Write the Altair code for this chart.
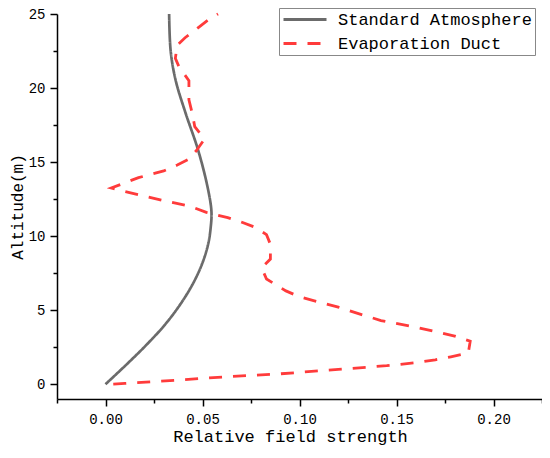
import altair as alt
import pandas as pd

# Standard Atmosphere (altitude m, relative field strength)
std_alt = [0, 1.3, 2.63, 3.95, 5.27, 6.7, 8.13, 9.45, 10.55, 11.68, 13.44, 15.87, 18.3, 20.5, 22.49, 25]
std_field = [0.0, 0.0106, 0.0209, 0.0302, 0.0379, 0.0447, 0.0498, 0.0529, 0.0542, 0.0546,
             0.0524, 0.0476, 0.0413, 0.0362, 0.0336, 0.0328]

# Evaporation Duct
duct_alt = [0.00, 0.05, 0.30, 0.50, 0.70, 1.00, 1.25, 1.45, 1.65, 1.85, 2.10, 2.90, 3.25, 3.55,
            3.85, 4.30, 4.70, 5.20, 5.90, 6.30, 6.70, 7.10, 7.85, 8.45, 9.45, 10.10, 10.60,
            10.95, 11.25, 11.60, 12.00, 12.40, 12.80, 13.05, 13.25, 13.60, 13.95, 14.40,
            14.80, 15.20, 15.80, 16.55, 17.40, 18.30, 19.20, 20.50, 21.40, 22.00, 22.90,
            23.40, 24.10, 24.60, 25.00]
duct_field = [0.004, 0.010, 0.040, 0.062, 0.090, 0.120, 0.145, 0.160, 0.170, 0.178, 0.187,
              0.188, 0.180, 0.170, 0.160, 0.142, 0.132, 0.120, 0.100, 0.093, 0.088, 0.083,
              0.0805, 0.085, 0.085, 0.083, 0.077, 0.070, 0.063, 0.052, 0.044, 0.030, 0.017,
              0.009, 0.003, 0.010, 0.017, 0.030, 0.037, 0.043, 0.047, 0.051, 0.046, 0.0447,
              0.043, 0.043, 0.038, 0.036, 0.037, 0.041, 0.048, 0.053, 0.058]

series_names = ["Standard Atmosphere", "Evaporation Duct"]
x_ticks = [-0.025, 0.0, 0.025, 0.05, 0.075, 0.10, 0.125, 0.15, 0.175, 0.20, 0.225]
y_ticks = [0, 2.5, 5, 7.5, 10, 12.5, 15, 17.5, 20, 22.5, 25]

rows = []
for i, (a, f) in enumerate(zip(std_alt, std_field)):
    rows.append({"series": series_names[0], "alt": a, "field": f, "idx": i})
for i, (a, f) in enumerate(zip(duct_alt, duct_field)):
    rows.append({"series": series_names[1], "alt": a, "field": f, "idx": i})
df = pd.DataFrame(rows)

FONT = "Liberation Mono"
GRAY = "#6b6b6b"
RED = "#ff3b3b"

legend = alt.Legend(
    title=None, orient="none", legendX=222, legendY=-6, direction="vertical",
    symbolType="stroke", symbolSize=1849, symbolStrokeWidth=3,
    labelFont=FONT, labelFontSize=17, labelColor="black", labelOffset=10,
    strokeColor="#888888", fillColor="white", padding=3, rowPadding=6,
    clipHeight=17, labelLimit=400,
)

x_enc = alt.X(
    "field:Q",
    scale=alt.Scale(domain=[-0.025, 0.225], nice=False, zero=False),
    axis=alt.Axis(
        values=x_ticks, format=".2f",
        labelExpr="abs(round(datum.value*1000)) % 50 == 0 ? datum.label : ''",
        tickSize={"condition": {"test": "abs(round(datum.value*1000)) % 50 == 0", "value": 7}, "value": 4},
        title="Relative field strength", titleX=233, titleY=37, titleBaseline="middle",
        labelPadding=6,
    ),
)
y_enc = alt.Y(
    "alt:Q",
    scale=alt.Scale(domain=[-1, 25], nice=False, zero=False),
    axis=alt.Axis(
        values=y_ticks, format="d",
        labelExpr="datum.value % 5 == 0 ? datum.label : ''",
        tickSize={"condition": {"test": "datum.value % 5 == 0", "value": 7}, "value": 4},
        title="Altitude(m)", labelPadding=5, titleX=-40, titleBaseline="middle",
        titleFontSize=16,
    ),
)
color_enc = alt.Color("series:N", scale=alt.Scale(domain=series_names, range=[GRAY, RED]), legend=legend)
dash_enc = alt.StrokeDash("series:N", scale=alt.Scale(domain=series_names, range=[[1, 0], [13, 11]]), legend=legend)

base = alt.Chart(df).encode(x=x_enc, y=y_enc, color=color_enc, strokeDash=dash_enc, order="idx:Q")

std_layer = base.transform_filter(alt.datum.series == series_names[0]).mark_line(
    strokeWidth=2.7, interpolate="catmull-rom", clip=False)
duct_layer = base.transform_filter(alt.datum.series == series_names[1]).mark_line(
    strokeWidth=2.8, clip=False)

chart = (
    alt.layer(std_layer, duct_layer)
    .properties(
        width=485, height=385,
        padding={"left": 49, "top": 6, "right": 0, "bottom": 51},
        autosize=alt.AutoSizeParams(type="none"),
    )
    .configure_view(stroke=None)
    .configure_axis(
        grid=False, domainColor="black", domainWidth=1.5, tickColor="black", tickWidth=1.5,
        labelFont=FONT, labelFontSize=14, labelColor="black",
        titleFont=FONT, titleFontSize=17, titleFontWeight="normal", titleColor="black",
    )
)

chart.save("out.html", embed_options={"renderer": "svg", "actions": False})
